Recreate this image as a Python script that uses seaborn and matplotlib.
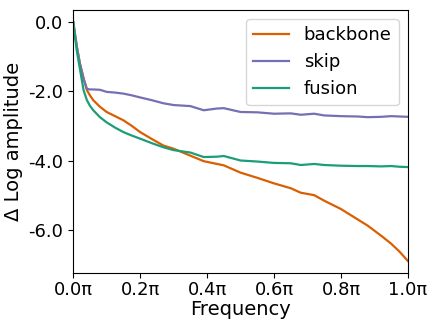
import matplotlib
matplotlib.use("Agg")
import matplotlib.pyplot as plt
from matplotlib.ticker import FuncFormatter
import pandas as pd
import seaborn as sns

# frequency in units of pi
freq = [0.0, 0.011, 0.02, 0.031, 0.041, 0.05, 0.06, 0.08, 0.1, 0.125, 0.15, 0.175, 0.2,
        0.235, 0.27, 0.3, 0.35, 0.39, 0.43, 0.45, 0.5, 0.55, 0.6, 0.65, 0.68, 0.72,
        0.75, 0.8, 0.85, 0.88, 0.92, 0.95, 0.975, 1.0]

backbone = [0.0, -0.72, -1.2, -1.62, -1.97, -2.12, -2.26, -2.45, -2.6, -2.72, -2.84, -3.0, -3.18,
            -3.38, -3.57, -3.66, -3.86, -4.02, -4.1, -4.14, -4.35, -4.5, -4.66, -4.8, -4.93, -5.0,
            -5.16, -5.4, -5.7, -5.88, -6.17, -6.4, -6.63, -6.9]
skip = [0.0, -0.72, -1.2, -1.65, -1.93, -1.95, -1.95, -1.96, -2.02, -2.04, -2.07, -2.12, -2.18,
        -2.26, -2.35, -2.4, -2.43, -2.55, -2.5, -2.49, -2.6, -2.61, -2.65, -2.64, -2.68, -2.65,
        -2.7, -2.72, -2.73, -2.75, -2.74, -2.72, -2.73, -2.74]
fusion = [0.0, -0.85, -1.35, -1.97, -2.26, -2.42, -2.55, -2.75, -2.9, -3.05, -3.18, -3.28, -3.37,
          -3.5, -3.62, -3.7, -3.77, -3.9, -3.89, -3.87, -4.0, -4.03, -4.07, -4.08, -4.13, -4.1,
          -4.13, -4.15, -4.16, -4.16, -4.17, -4.16, -4.18, -4.19]

series_names = ["backbone", "skip", "fusion"]
colors = ["#d95f02", "#7570b3", "#1b9e77"]

df = pd.DataFrame({"Frequency": freq * 3,
                   "value": backbone + skip + fusion,
                   "series": [n for n in series_names for _ in freq]})

fig, ax = plt.subplots(figsize=(4.28, 3.2), dpi=100)
sns.lineplot(data=df, x="Frequency", y="value", hue="series",
             palette=dict(zip(series_names, colors)), linewidth=1.6, ax=ax)

ax.set_xlim(0, 1)
ax.set_xticks([0, 0.2, 0.4, 0.6, 0.8, 1.0])
ax.xaxis.set_major_formatter(FuncFormatter(lambda v, p: f"{v:.1f}π"))
ax.set_yticks([0, -2, -4, -6])
ax.yaxis.set_major_formatter(FuncFormatter(lambda v, p: f"{v:.1f}"))
ax.tick_params(labelsize=13)
ax.tick_params(axis="x", pad=2)
ax.set_xlabel("Frequency", fontsize=14, labelpad=1)
ax.set_ylabel("Δ Log amplitude", fontsize=14)
ax.legend(loc="upper right", fontsize=13, title=None)

fig.subplots_adjust(left=0.171, right=0.953, top=0.969, bottom=0.147)
fig.savefig("out.png", dpi=100)
